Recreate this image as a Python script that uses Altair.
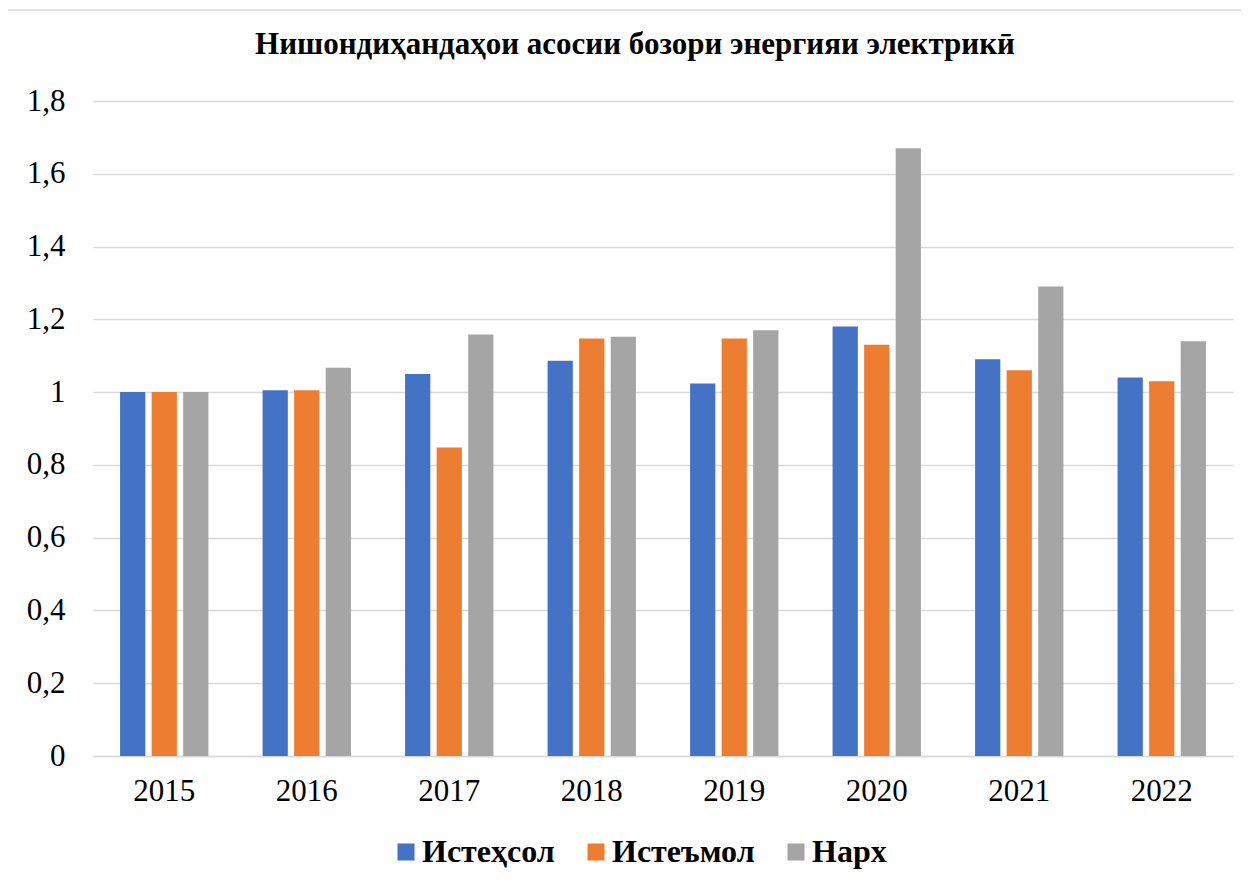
import altair as alt
import pandas as pd

years = ["2015", "2016", "2017", "2018", "2019", "2020", "2021", "2022"]
series = ["Истеҳсол", "Истеъмол", "Нарх"]
production = [1.00, 1.005, 1.05, 1.086, 1.024, 1.18, 1.09, 1.04]
consumption = [1.00, 1.005, 0.848, 1.147, 1.147, 1.13, 1.06, 1.03]
price = [1.00, 1.067, 1.158, 1.152, 1.17, 1.67, 1.29, 1.14]
colors = ["#4472C4", "#ED7D31", "#A5A5A5"]
title_text = "Нишондиҳандаҳои асосии бозори энергияи электрикӣ"

rows = []
for name, vals in zip(series, [production, consumption, price]):
    for y, v in zip(years, vals):
        rows.append({"year": y, "series": name, "value": v})
df = pd.DataFrame(rows)

FONT = "Liberation Serif"
W, H = 1140, 655

border = alt.Chart(pd.DataFrame({"a": [0]})).mark_rect(
    fillOpacity=0, stroke="#d9d9d9", strokeWidth=1.5
).encode(
    x=alt.value(-86), x2=alt.value(W + 60),
    y=alt.value(-91), y2=alt.value(H + 140),
)

bars = alt.Chart(df).mark_bar().encode(
    x=alt.X("year:N", sort=years, title=None,
            scale=alt.Scale(paddingInner=0.38, paddingOuter=0.19),
            axis=alt.Axis(labelAngle=0, labelFont=FONT, labelFontSize=31,
                          labelColor="#000000", labelPadding=20, ticks=False,
                          domainColor="#d9d9d9", domainWidth=1.5, grid=False)),
    xOffset=alt.XOffset("series:N", sort=series,
                        scale=alt.Scale(paddingInner=0.2, paddingOuter=0)),
    y=alt.Y("value:Q", title=None,
            scale=alt.Scale(domain=[0, 1.8], nice=False),
            axis=alt.Axis(values=[0, 0.2, 0.4, 0.6, 0.8, 1.0, 1.2, 1.4, 1.6, 1.8],
                          labelExpr="replace(toString(round(datum.value*10)/10), '.', ',')",
                          labelFont=FONT, labelFontSize=31, labelColor="#000000",
                          labelPadding=28, ticks=False, domain=False,
                          gridColor="#d9d9d9", gridWidth=1.5)),
    color=alt.Color("series:N", sort=series,
                    scale=alt.Scale(domain=series, range=colors),
                    legend=alt.Legend(title=None, orient="none", direction="horizontal",
                                      legendX=297, legendY=735,
                                      labelFont=FONT, labelFontSize=32,
                                      labelFontWeight="bold", labelColor="#000000",
                                      symbolType="square", symbolSize=290,
                                      symbolStrokeWidth=0, labelOffset=0,
                                      columnPadding=25)),
)

chart = alt.layer(border, bars).properties(
    width=W, height=H,
    background="white",
    title=alt.Title(title_text, font=FONT, fontSize=31, fontWeight="bold",
                    color="#000000", anchor="middle", frame="group", dx=-28,
                    offset=-52),
    autosize=alt.AutoSizeParams(type="none"),
    padding={"left": 85, "top": 93, "right": 8, "bottom": 118},
).configure_view(stroke=None)

chart.save("out.html", embed_options={"renderer": "svg", "actions": False})
